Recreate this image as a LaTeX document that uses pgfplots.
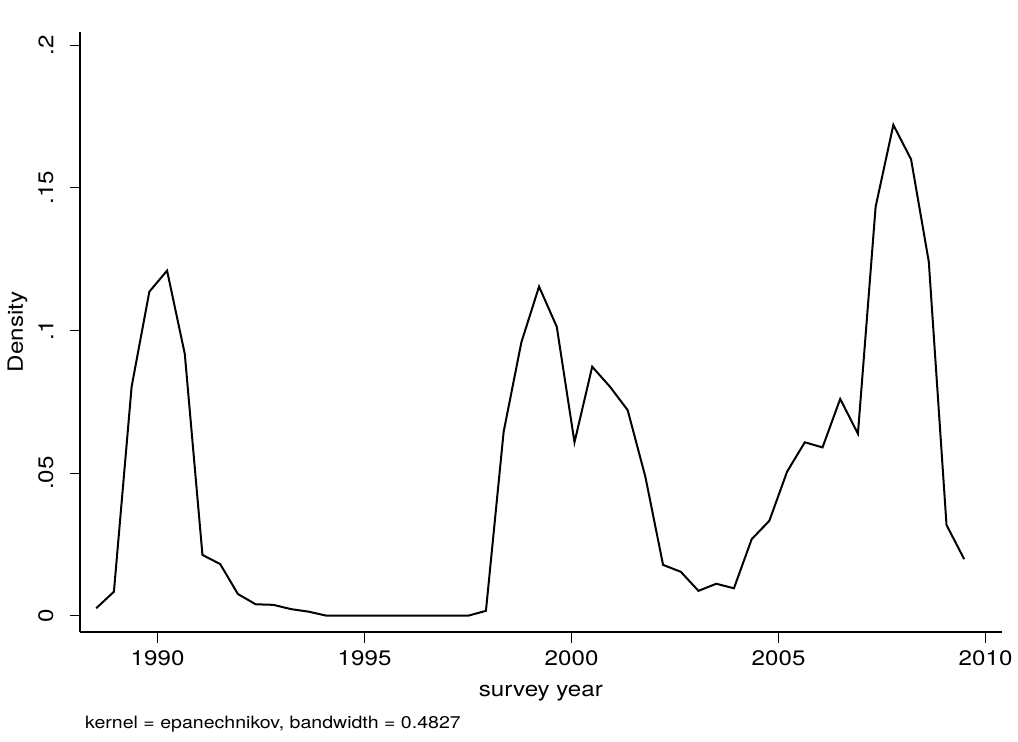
\documentclass[border=0pt]{standalone}
\usepackage{fontspec}
\setmainfont{TeX Gyre Heros}[FakeStretch=1.15]
\usepackage{pgfplots}
\pgfplotsset{compat=1.18}
\pgfplotstableread{
x y
1988.517 0.0026
1988.945 0.0084
1989.373 0.0803
1989.801 0.1136
1990.229 0.1210
1990.657 0.0918
1991.084 0.0213
1991.512 0.0181
1991.940 0.0076
1992.368 0.0040
1992.796 0.0038
1993.224 0.0023
1993.652 0.0014
1994.080 0
1994.508 0
1994.935 0
1995.363 0
1995.791 0
1996.219 0
1996.647 0
1997.075 0
1997.503 0
1997.931 0.0017
1998.359 0.0645
1998.786 0.0958
1999.214 0.1154
1999.642 0.1013
2000.070 0.0608
2000.498 0.0873
2000.926 0.0803
2001.354 0.0721
2001.782 0.0487
2002.210 0.0178
2002.637 0.0154
2003.065 0.0087
2003.493 0.0112
2003.921 0.0096
2004.349 0.0268
2004.777 0.0333
2005.205 0.0505
2005.633 0.0608
2006.061 0.0590
2006.488 0.0760
2006.916 0.0638
2007.344 0.1434
2007.772 0.1721
2008.200 0.1600
2008.628 0.1241
2009.056 0.0318
2009.484 0.0198
}\densitytable
\begin{document}
\begin{tikzpicture}[x=1pt,y=1pt]
\path[use as bounding box] (0,0) rectangle (1018,742);
\begin{axis}[
  at={(80pt,110pt)}, anchor=south west,
  scale only axis, width=921.7pt, height=600pt,
  xmin=1988.126, xmax=2010.389, ymin=-0.00572, ymax=0.20466,
  axis lines=left,
  axis line style={-, line width=1.3pt, black},
  tick align=outside,
  major tick length=10.5pt,
  every tick/.style={black, line width=1pt},
  xtick={1990,1995,2000,2005,2010},
  xticklabels={1990,1995,2000,2005,2010},
  ytick={0,0.05,0.1,0.15,0.2},
  yticklabels={0,.05,.1,.15,.2},
  /pgf/number format/assume math mode=true,
  xticklabel style={font=\fontsize{21}{25}\selectfont, anchor=north, inner sep=0pt, yshift=-8pt},
  yticklabel style={font=\fontsize{21}{25}\selectfont, xshift=-16pt, rotate=90, anchor=south, inner sep=0pt},
  xlabel={survey year},
  ylabel={Density},
  every axis x label/.style={at={(axis description cs:0.5,0)}, anchor=base, yshift=-64.7pt, font=\fontsize{21}{25}\selectfont, inner sep=0pt},
  every axis y label/.style={at={(axis description cs:0,0.5)}, xshift=-57pt, rotate=90, anchor=base, font=\fontsize{21}{25}\selectfont, inner sep=0pt},
  clip=false,
]
\addplot[black, line width=2pt, line join=miter, mark=none] table[x=x,y=y] {\densitytable};
\end{axis}
\node[anchor=base west, inner sep=0pt, font=\fontsize{17}{20}\selectfont] at (85,13) {kernel = epanechnikov, bandwidth = 0.4827};
\end{tikzpicture}
\end{document}
